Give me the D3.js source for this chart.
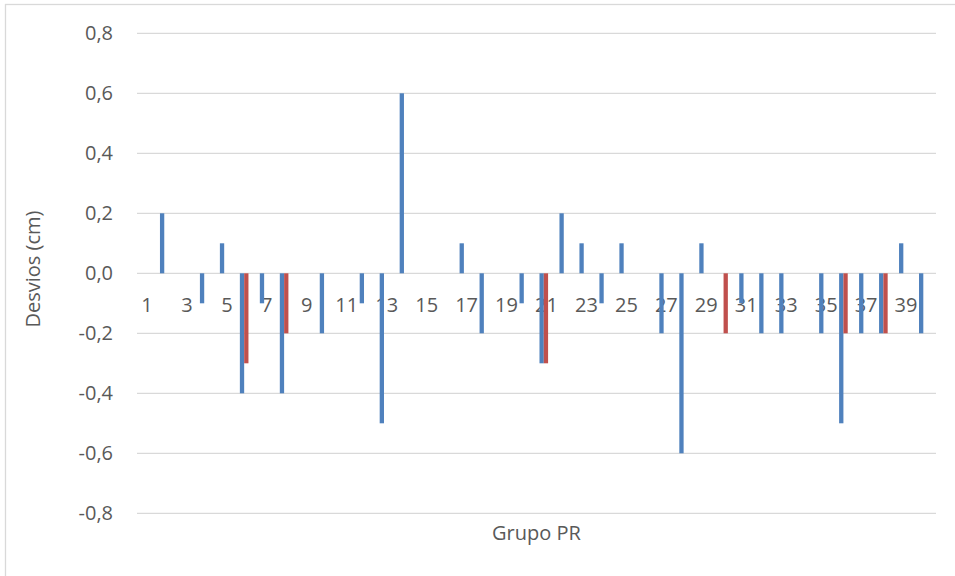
<!DOCTYPE html>
<html lang="pt">
<head>
    <meta charset="UTF-8">
    <title>Grupo PR</title>
    <style>
      body { margin: 0; background: #fff; }
      text { font-family: "Open Sans", sans-serif; fill: #595959; }
    </style>
</head>
<body>
<svg height="576" width="955"></svg>

<script src="https://d3js.org/d3.v7.min.js"></script>
<script>

  var categories = [1, 2, 3, 4, 5, 6, 7, 8, 9, 10, 11, 12, 13, 14, 15, 16, 17, 18, 19, 20,
                    21, 22, 23, 24, 25, 26, 27, 28, 29, 30, 31, 32, 33, 34, 35, 36, 37, 38, 39, 40];

  // blue series
  var desviosA = [0, 0.2, 0, -0.1, 0.1, -0.4, -0.1, -0.4, 0, -0.2, 0, -0.1, -0.5, 0.6, 0, 0, 0.1, -0.2, 0, -0.1,
                  -0.3, 0.2, 0.1, -0.1, 0.1, 0, -0.2, -0.6, 0.1, 0, -0.1, -0.2, -0.2, 0, -0.2, -0.5, -0.2, -0.2, 0.1, -0.2];

  // red series
  var desviosB = [0, 0, 0, 0, 0, -0.3, 0, -0.2, 0, 0, 0, 0, 0, 0, 0, 0, 0, 0, 0, 0,
                  -0.3, 0, 0, 0, 0, 0, 0, 0, 0, -0.2, 0, 0, 0, 0, 0, -0.2, 0, -0.2, 0, 0];

  var yTicks = [-0.8, -0.6, -0.4, -0.2, 0, 0.2, 0.4, 0.6, 0.8];
  var xTickLabels = [1, 3, 5, 7, 9, 11, 13, 15, 17, 19, 21, 23, 25, 27, 29, 31, 33, 35, 37, 39];

  var translate = function(x, y) { return "translate(" + x + "," + y + ")"; };

  var plot = {left: 137, right: 936, top: 33.3, bottom: 513.3};

  var svg = d3.select("svg");

  // chart area border
  svg.append("rect")
      .attr("x", 5.5).attr("y", 4.5)
      .attr("width", 980).attr("height", 620)
      .attr("fill", "#fff")
      .attr("stroke", "#d9d9d9")
      .attr("stroke-width", 1.3);

  var x = d3.scaleBand().domain(categories).range([plot.left, plot.right]);
  var y = d3.scaleLinear().domain([-0.8, 0.8]).range([plot.bottom, plot.top]);

  // two bars per category, sitting a little left of the centre like the original
  var series = ["a", "b"];
  var inner = d3.scaleBand().domain(series).range([-7, 1.6]);

  svg.append("g")
      .selectAll("line")
      .data(yTicks)
      .enter()
      .append("line")
      .attr("x1", plot.left).attr("x2", plot.right)
      .attr("y1", function(d) { return y(d); })
      .attr("y2", function(d) { return y(d); })
      .attr("stroke", "#d9d9d9")
      .attr("stroke-width", 1.3);

  var fmt = function(d) { return d3.format(".1f")(d).replace(".", ",").replace("−", "-"); };

  var yAxis = svg.append("g")
      .attr("transform", translate(plot.left, 0))
      .call(d3.axisLeft(y).tickValues(yTicks).tickSize(0).tickPadding(24).tickFormat(fmt));
  yAxis.select(".domain").remove();
  yAxis.selectAll("text").style("font-size", "20px").attr("fill", "#595959");

  var xAxis = svg.append("g")
      .attr("transform", translate(0, y(0)))
      .call(d3.axisBottom(x).tickValues(xTickLabels).tickSize(0).tickPadding(25));
  xAxis.select(".domain").remove();
  xAxis.selectAll("text").style("font-size", "20px").attr("fill", "#595959");

  var drawSeries = function(values, key, colour) {
    svg.append("g")
        .selectAll("rect")
        .data(categories.map(function(c, i) { return {cat: c, v: values[i]}; })
                        .filter(function(d) { return d.v !== 0; }))
        .enter()
        .append("rect")
        .attr("x", function(d) { return x(d.cat) + x.bandwidth() / 2 + inner(key); })
        .attr("width", inner.bandwidth())
        .attr("y", function(d) { return Math.min(y(d.v), y(0)); })
        .attr("height", function(d) { return Math.abs(y(d.v) - y(0)); })
        .attr("fill", colour);
  };

  drawSeries(desviosA, "a", "#4f81bd");
  drawSeries(desviosB, "b", "#c0504d");

  svg.append("text")
      .attr("transform", translate(32, 269) + " rotate(-90)")
      .attr("text-anchor", "middle")
      .attr("dominant-baseline", "central")
      .style("font-size", "20px")
      .text("Desvios (cm)");

  svg.append("text")
      .attr("x", (plot.left + plot.right) / 2)
      .attr("y", 540)
      .attr("text-anchor", "middle")
      .style("font-size", "20px")
      .text("Grupo PR");

</script>
</body>
</html>
